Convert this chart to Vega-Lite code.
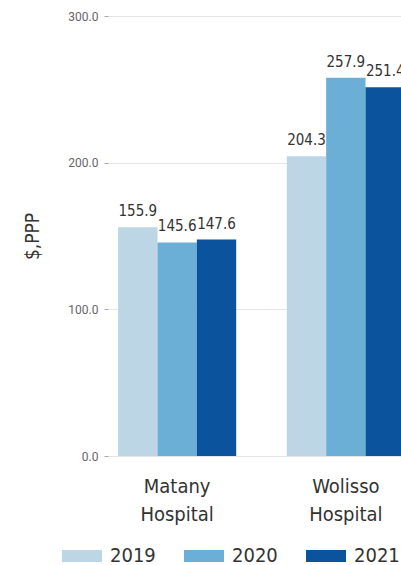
{
  "$schema": "https://vega.github.io/schema/vega-lite/v6.json",
  "autosize": "none",
  "padding": {"left": 108, "top": 16, "right": 0, "bottom": 109},
  "width": 307,
  "height": 440,
  "background": "white",
  "config": {
    "view": {"stroke": null},
    "font": "DejaVu Sans Condensed"
  },
  "data": {
    "values": [
      {"hospital": "Matany Hospital", "year": "2019", "value": 155.9},
      {"hospital": "Matany Hospital", "year": "2020", "value": 145.6},
      {"hospital": "Matany Hospital", "year": "2021", "value": 147.6},
      {"hospital": "Wolisso Hospital", "year": "2019", "value": 204.3},
      {"hospital": "Wolisso Hospital", "year": "2020", "value": 257.9},
      {"hospital": "Wolisso Hospital", "year": "2021", "value": 251.4}
    ]
  },
  "encoding": {
    "x": {
      "field": "hospital", "type": "nominal", "sort": null,
      "scale": {"paddingInner": 0.3, "paddingOuter": 0.06},
      "axis": {
        "title": null, "ticks": false, "domain": false, "labelAngle": 0,
        "labelExpr": "split(datum.label, ' ')",
        "labelFontSize": 20, "labelColor": "#333333", "labelLineHeight": 28,
        "labelPadding": 20, "labelFont": "DejaVu Sans Condensed"
      }
    },
    "xOffset": {"field": "year", "type": "nominal", "scale": {"paddingInner": 0, "paddingOuter": 0}},
    "y": {
      "field": "value", "type": "quantitative",
      "scale": {"domain": [0, 300], "nice": false},
      "axis": {
        "title": "$,PPP", "titleFontSize": 19, "titleFontWeight": "normal", "titleColor": "#333333",
        "titleFont": "DejaVu Sans Condensed", "titlePadding": 25,
        "values": [0, 100, 200, 300], "format": ".1f",
        "labelFontSize": 12, "labelColor": "#666666", "labelFont": "Roboto",
        "tickSize": 4, "tickColor": "#aaaaaa", "domain": false,
        "gridColor": "#e6e6e6", "labelPadding": 6
      }
    }
  },
  "layer": [
    {
      "mark": {"type": "bar"},
      "encoding": {
        "color": {
          "field": "year", "type": "nominal",
          "scale": {"domain": ["2019", "2020", "2021"], "range": ["#bcd6e6", "#6baed6", "#0b539c"]},
          "legend": {
            "title": null, "orient": "none", "direction": "horizontal",
            "legendX": -46, "legendY": 520,
            "symbolType": "M-1,-0.3L1,-0.3L1,0.3L-1,0.3Z", "symbolSize": 1600,
            "symbolStrokeWidth": 0,
            "labelFontSize": 20, "labelColor": "#333333", "labelFont": "DejaVu Sans Condensed",
            "labelOffset": 8, "columnPadding": 28
          }
        }
      }
    },
    {
      "mark": {"type": "text", "baseline": "bottom", "dy": -8, "fontSize": 15, "color": "#333333", "font": "DejaVu Sans Condensed"},
      "encoding": {
        "text": {"field": "value", "type": "quantitative", "format": ".1f"}
      }
    }
  ]
}
